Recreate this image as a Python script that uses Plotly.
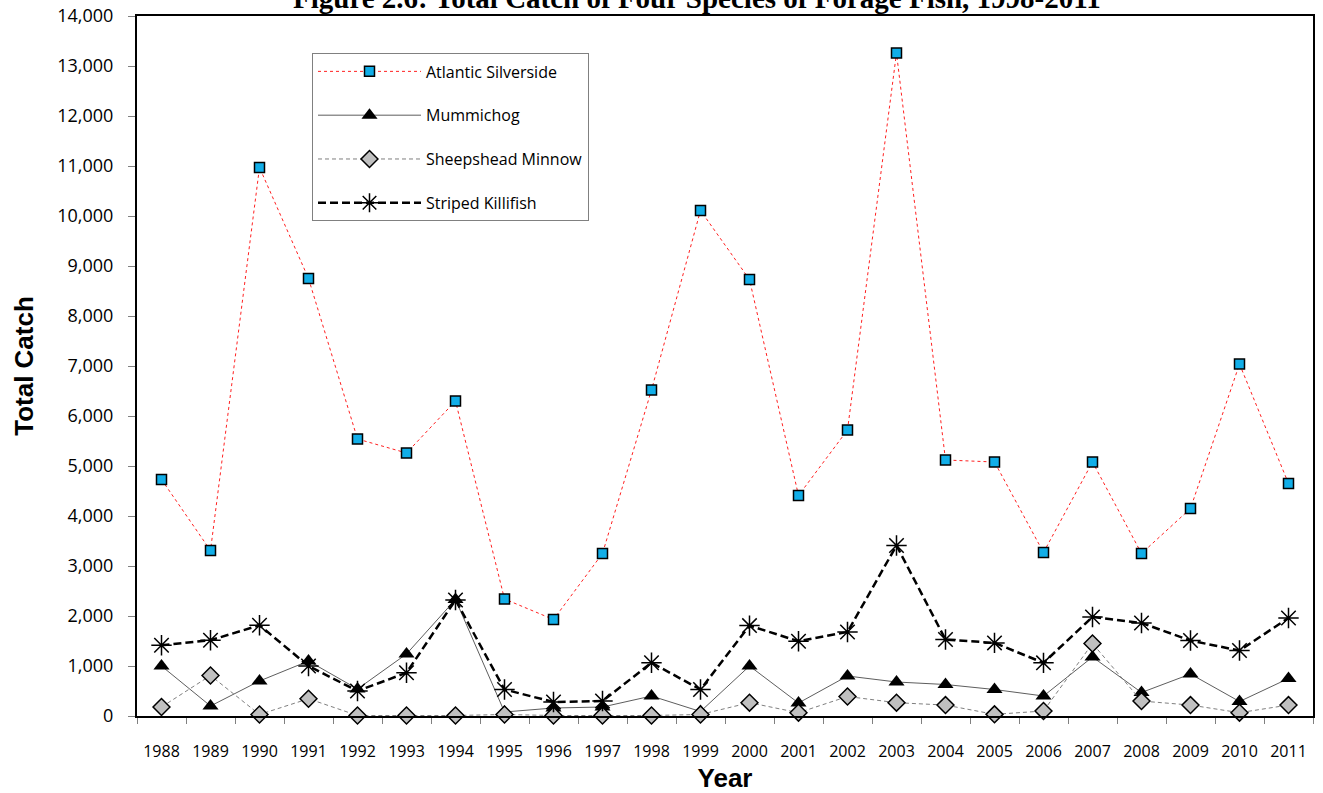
import plotly.graph_objects as go

years = [str(y) for y in range(1988, 2012)]
atlantic_silverside = [4730, 3310, 10970, 8750, 5540, 5260, 6300, 2340, 1930, 3250, 6520, 10110,
                       8730, 4410, 5720, 13260, 5120, 5080, 3270, 5080, 3250, 4150, 7040, 4650]
mummichog = [1000, 200, 700, 1100, 540, 1240, 2330, 80, 160, 180, 400, 90,
             1000, 260, 800, 680, 630, 530, 400, 1180, 470, 840, 290, 750]
sheepshead_minnow = [180, 810, 30, 345, 10, 10, 10, 30, 10, 10, 10, 30,
                     266, 66, 390, 266, 219, 33, 100, 1450, 299, 219, 66, 219]
striped_killifish = [1415, 1515, 1815, 1000, 500, 865, 2320, 530, 280, 300, 1065, 530,
                     1808, 1495, 1680, 3410, 1529, 1462, 1063, 1981, 1861, 1509, 1309, 1961]

fig = go.Figure()
fig.add_trace(go.Scatter(
    x=years, y=atlantic_silverside, name="Atlantic Silverside", mode="lines+markers",
    line=dict(color="#FF2020", width=1, dash="dot"),
    marker=dict(symbol="square", size=10, color="#12AEE8", line=dict(color="black", width=1.5)),
    cliponaxis=False, legendgroup="a"))
fig.add_trace(go.Scatter(
    x=years, y=mummichog, name="Mummichog", mode="lines+markers",
    line=dict(color="#333333", width=0.8),
    marker=dict(symbol="triangle-up", size=14, color="black", line=dict(color="black", width=0)),
    cliponaxis=False, legendgroup="b"))
fig.add_trace(go.Scatter(
    x=years, y=sheepshead_minnow, name="Sheepshead Minnow", mode="lines+markers",
    line=dict(color="#707070", width=0.9, dash="4px,3px"),
    marker=dict(symbol="diamond", size=13, color="#C0C0C0", line=dict(color="black", width=1.5)),
    cliponaxis=False, legendgroup="c"))
fig.add_trace(go.Scatter(
    x=years, y=striped_killifish, name="Striped Killifish", mode="lines+markers",
    line=dict(color="black", width=2.5, dash="8px,4px"),
    marker=dict(symbol="asterisk-open", size=17, color="black", line=dict(color="black", width=1.5)),
    cliponaxis=False, legendgroup="d"))

fig.update_layout(
    width=1323, height=793,
    margin=dict(l=137, r=10, t=15.5, b=77, autoexpand=False),
    paper_bgcolor="white", plot_bgcolor="white",
    showlegend=True,
    legend=dict(x=(312 - 137) / 1176, y=(716 - 53) / 700.5, xanchor="left", yanchor="top",
                bordercolor="#808080", borderwidth=1, bgcolor="white",
                font=dict(family="Open Sans", size=16, color="black"),
                tracegroupgap=20, traceorder="grouped", itemwidth=103),
)
fig.add_annotation(
    text="<b>Figure 2.6: Total Catch of Four Species of Forage Fish, 1998-2011</b>",
    font=dict(family="Liberation Serif", size=29, color="black"),
    xref="paper", yref="paper", x=(697 - 137) / 1176, y=1 + 18.5 / 700.5,
    xanchor="center", yanchor="middle", showarrow=False)
fig.update_xaxes(
    type="category", range=[-0.5, 23.5], showline=True, mirror=True, linecolor="black", linewidth=2,
    ticks="outside", tickson="boundaries", ticklen=6, tickcolor="#808080",
    tickfont=dict(family="Open Sans", size=16, color="black"), ticklabelstandoff=20,
    showgrid=False, zeroline=False, automargin=False,
    title=dict(text="<b>Year</b>", font=dict(family="Liberation Sans", size=26, color="black"), standoff=14),
)
fig.update_yaxes(
    range=[0, 14000], dtick=1000, tickformat=",", showline=True, mirror=True,
    linecolor="black", linewidth=2, ticks="outside", ticklen=7, tickcolor="#808080",
    tickfont=dict(family="Open Sans", size=18, color="black"), ticklabelstandoff=11,
    showgrid=False, zeroline=False, automargin=False,
    title=dict(text="<b>Total Catch</b>", font=dict(family="Liberation Sans", size=26, color="black"), standoff=16),
)

fig.write_html("out.html", config={"displayModeBar": False},
               post_script="document.body.style.margin='0';")
